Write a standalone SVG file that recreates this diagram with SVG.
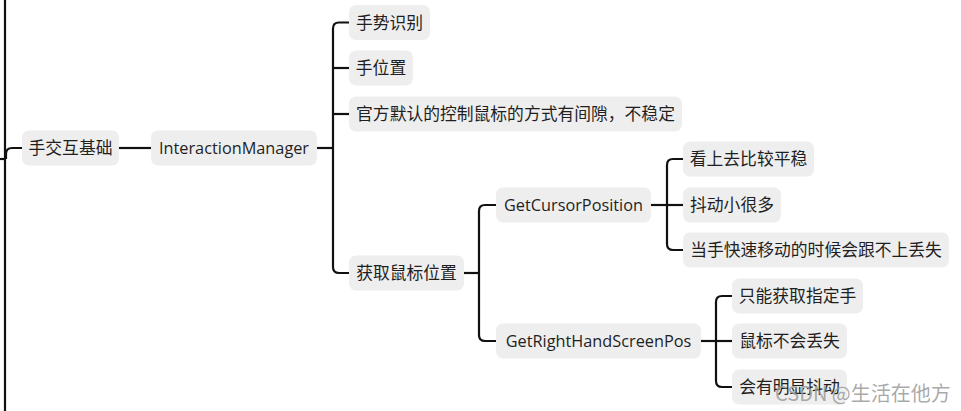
<svg xmlns="http://www.w3.org/2000/svg" width="961" height="411" viewBox="0 0 961 411">
<style>
.n rect{fill:#eeeeee;}
.n text{font-family:"Noto Sans CJK SC",sans-serif;font-size:16.8px;fill:#1f1f1f;text-anchor:middle;}
.n text.en{font-family:"Open Sans","Noto Sans",sans-serif;font-size:16.3px;}
.c path{fill:none;stroke:#111;stroke-width:2.2;stroke-linecap:butt;}
.wm{font-family:"Noto Sans CJK SC",sans-serif;font-size:20px;fill:#9a9a9a;fill-opacity:0.85;}
</style>
<rect width="961" height="411" fill="#ffffff"/>
<g class="c" id="connectors">
<path d="M5,0 V411"/>
<path d="M0,159 H6"/>
<path d="M6,159 V154 Q6,148 12,148 H22"/>
<path d="M119,148 H151"/>
<path d="M317,148 H333"/>
<path d="M349,22.5 H339 Q333,22.5 333,28.5 V267 Q333,273 339,273 H349"/>
<path d="M333,68 H349"/>
<path d="M333,114 H349"/>
<path d="M464,273 H479"/>
<path d="M496,205 H485 Q479,205 479,211 V335 Q479,341 485,341 H496"/>
<path d="M651,205 H683"/>
<path d="M683,159 H673 Q667,159 667,165 V244 Q667,250 673,250 H683"/>
<path d="M701,341 H732"/>
<path d="M732,296 H722 Q716,296 716,302 V381 Q716,387 722,387 H732"/>
</g>
<g class="n" id="n-root"><rect x="22" y="130.5" width="97" height="35" rx="7"/><text x="70.5" y="154">手交互基础</text></g>
<g class="n" id="n-im"><rect x="151" y="130.5" width="166" height="35" rx="7"/><text class="en" x="234" y="153.5">InteractionManager</text></g>
<g class="n" id="n-gesture"><rect x="349" y="5" width="81" height="35" rx="7"/><text x="389.5" y="28.5">手势识别</text></g>
<g class="n" id="n-handpos"><rect x="349" y="50.5" width="64" height="35" rx="7"/><text x="381" y="74">手位置</text></g>
<g class="n" id="n-official"><rect x="349" y="96.5" width="333" height="35" rx="7"/><text x="515.5" y="120">官方默认的控制鼠标的方式有间隙，不稳定</text></g>
<g class="n" id="n-getmouse"><rect x="349" y="255.5" width="115" height="35" rx="7"/><text x="406.5" y="279">获取鼠标位置</text></g>
<g class="n" id="n-cursor"><rect x="496" y="187.5" width="155" height="35" rx="7"/><text class="en" x="573.5" y="210.5">GetCursorPosition</text></g>
<g class="n" id="n-right"><rect x="496" y="323.5" width="205" height="35" rx="7"/><text class="en" x="598.5" y="346.5">GetRightHandScreenPos</text></g>
<g class="n" id="n-smooth"><rect x="683" y="141.5" width="131" height="35" rx="7"/><text x="748.5" y="165">看上去比较平稳</text></g>
<g class="n" id="n-lessjitter"><rect x="683" y="187.5" width="98" height="35" rx="7"/><text x="732" y="211">抖动小很多</text></g>
<g class="n" id="n-lost"><rect x="683" y="232.5" width="266" height="35" rx="7"/><text x="816" y="256">当手快速移动的时候会跟不上丢失</text></g>
<g class="n" id="n-onlyhand"><rect x="732" y="278.5" width="131" height="35" rx="7"/><text x="797.5" y="302">只能获取指定手</text></g>
<g class="n" id="n-notlost"><rect x="732" y="323.5" width="115" height="35" rx="7"/><text x="789.5" y="347">鼠标不会丢失</text></g>
<g class="n" id="n-jitter"><rect x="732" y="369.5" width="115" height="35" rx="7"/><text x="789.5" y="393">会有明显抖动</text></g>
<text class="wm" x="775" y="401">CSDN @生活在他方</text>
</svg>
